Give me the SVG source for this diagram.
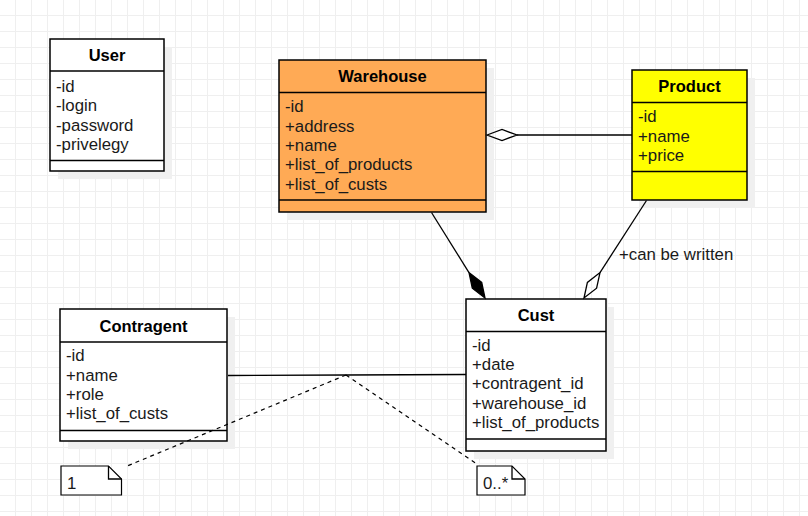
<svg xmlns="http://www.w3.org/2000/svg" width="808" height="516" viewBox="0 0 808 516">
<defs>
<pattern id="grid" patternUnits="userSpaceOnUse" x="15" y="15" width="16" height="16">
<rect x="0" y="0" width="16" height="1" fill="#efefef"/>
<rect x="0" y="0" width="1" height="16" fill="#efefef"/>
</pattern>
<style>
.box{stroke:#000;stroke-width:1.5}
.sh{fill:#f0f0f0}
.sep{stroke:#000;stroke-width:1.5}
.t{font-family:"Liberation Sans",Arial,sans-serif;font-size:16.8px;fill:#1a1a1a}
.h{font-family:"Liberation Sans",Arial,sans-serif;font-size:16.5px;font-weight:bold;fill:#000;text-anchor:middle}
.ln{stroke:#000;stroke-width:1.3;fill:none}
.dash{stroke:#000;stroke-width:1.2;fill:none;stroke-dasharray:4 4}
.note{fill:#fff;stroke:#000;stroke-width:1.2}
</style>
</defs>
<rect width="808" height="516" fill="#fff"/>
<rect width="808" height="516" fill="url(#grid)"/>

<g id="User">
<rect class="sh" x="58" y="47" width="114" height="132"/>
<rect class="box" x="50" y="39" width="114" height="132" fill="#fff"/>
<line class="sep" x1="50" y1="71" x2="164" y2="71"/>
<line class="sep" x1="50" y1="160.5" x2="164" y2="160.5"/>
<text class="h" x="107" y="60.5">User</text>
<text class="t" x="56" y="91.5">-id</text>
<text class="t" x="56" y="111">-login</text>
<text class="t" x="56" y="130.5">-password</text>
<text class="t" x="56" y="150">-privelegy</text>
</g>

<g id="Warehouse">
<rect class="sh" x="287" y="68" width="207" height="152"/>
<rect class="box" x="279" y="60" width="207" height="152" fill="#ffaa55"/>
<line class="sep" x1="279" y1="92.5" x2="486" y2="92.5"/>
<line class="sep" x1="279" y1="200" x2="486" y2="200"/>
<text class="h" x="382.5" y="82">Warehouse</text>
<text class="t" x="285" y="112">-id</text>
<text class="t" x="285" y="131.5">+address</text>
<text class="t" x="285" y="151">+name</text>
<text class="t" x="285" y="170.3">+list_of_products</text>
<text class="t" x="285" y="189.5">+list_of_custs</text>
</g>

<g id="Product">
<rect class="sh" x="640" y="78" width="115" height="130"/>
<rect class="box" x="632" y="70" width="115" height="130" fill="#ffff00"/>
<line class="sep" x1="632" y1="102.5" x2="747" y2="102.5"/>
<line class="sep" x1="632" y1="171.5" x2="747" y2="171.5"/>
<text class="h" x="689.5" y="91.7">Product</text>
<text class="t" x="638" y="121.7">-id</text>
<text class="t" x="638" y="141.5">+name</text>
<text class="t" x="638" y="160.7">+price</text>
</g>

<g id="Contragent">
<rect class="sh" x="68" y="317" width="167" height="132"/>
<rect class="box" x="60" y="309" width="167" height="132" fill="#fff"/>
<line class="sep" x1="60" y1="342" x2="227" y2="342"/>
<line class="sep" x1="60" y1="430.5" x2="227" y2="430.5"/>
<text class="h" x="143.5" y="331.7">Contragent</text>
<text class="t" x="66" y="361">-id</text>
<text class="t" x="66" y="381">+name</text>
<text class="t" x="66" y="400">+role</text>
<text class="t" x="66" y="419.3">+list_of_custs</text>
</g>

<g id="Cust">
<rect class="sh" x="474" y="307" width="140" height="152"/>
<rect class="box" x="466" y="299" width="140" height="152" fill="#fff"/>
<line class="sep" x1="466" y1="331.5" x2="606" y2="331.5"/>
<line class="sep" x1="466" y1="439" x2="606" y2="439"/>
<text class="h" x="536" y="320.7">Cust</text>
<text class="t" x="472" y="350.7">-id</text>
<text class="t" x="472" y="370">+date</text>
<text class="t" x="472" y="389.3">+contragent_id</text>
<text class="t" x="472" y="408.5">+warehouse_id</text>
<text class="t" x="472" y="428.3">+list_of_products</text>
</g>

<g id="note1">
<path class="note" d="M61 466 H108.5 L121.5 479 V495 H61 Z"/>
<path class="ln" d="M108.5 466 V479 H121.5" stroke-width="1.2"/>
<text class="t" x="67" y="489">1</text>
</g>

<g id="noteMany">
<path class="note" d="M477 466 H512 L525 479 V495 H477 Z"/>
<path class="ln" d="M512 466 V479 H525" stroke-width="1.2"/>
<text class="t" x="483" y="489">0..*</text>
</g>

<g id="connectors">
<line class="ln" x1="632" y1="135" x2="517" y2="135"/>
<path class="ln" d="M487 135 L502 129.5 L517 135 L502 140.5 Z" fill="#fff"/>
<line class="ln" x1="431.5" y1="212.5" x2="469" y2="272.6"/>
<path d="M485 298 L472.3 288.2 L469 272.6 L481.7 282.4 Z" fill="#000" stroke="#000" stroke-width="1.3" stroke-linejoin="miter"/>
<line class="ln" x1="646.5" y1="200.5" x2="600" y2="272.6"/>
<path class="ln" d="M584 298 L587.4 282.4 L600 272.6 L596.6 288.2 Z" fill="#fff"/>
<polyline class="ln" points="228,375.5 346,375 466,374.5"/>
<line class="dash" x1="346" y1="375" x2="126" y2="466.5"/>
<line class="dash" x1="346" y1="375" x2="477" y2="464"/>
<text class="t" x="619" y="260">+can be written</text>
</g>
</svg>
